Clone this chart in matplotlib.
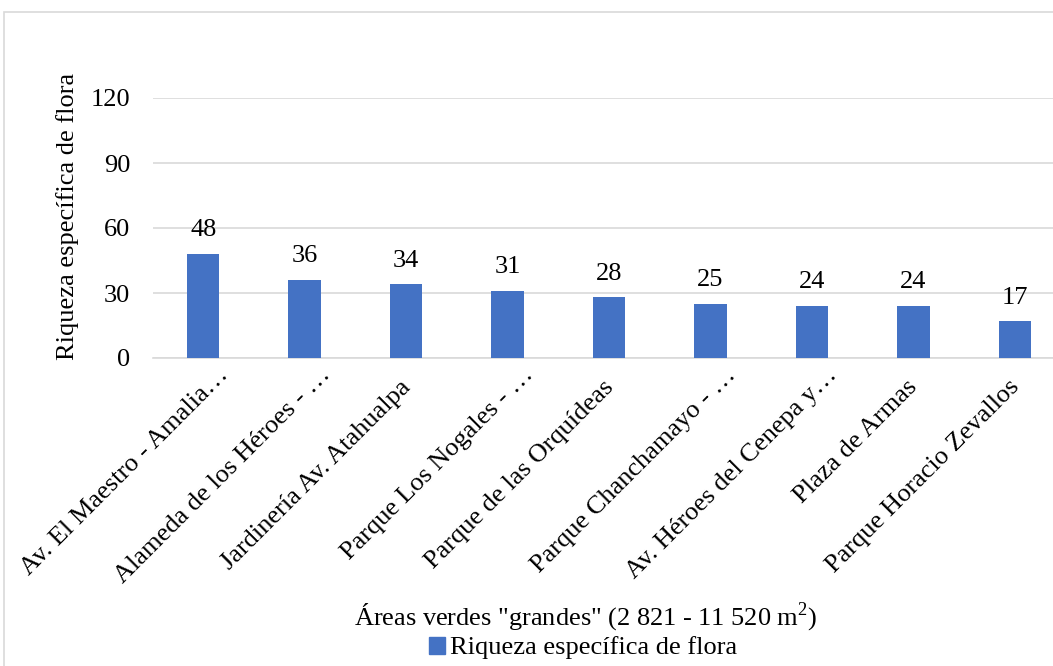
import matplotlib
matplotlib.use("Agg")
import matplotlib.pyplot as plt
import matplotlib.transforms as mtransforms
from matplotlib.patches import Rectangle

plt.rcParams['font.family'] = ['Liberation Serif', 'DejaVu Serif']
plt.rcParams['mathtext.fontset'] = 'custom'
plt.rcParams['mathtext.rm'] = 'Liberation Serif'

areas = [
    "Av. El Maestro - Amalia…",
    "Alameda de los Héroes - …",
    "Jardinería Av. Atahualpa",
    "Parque Los Nogales - …",
    "Parque de las Orquídeas",
    "Parque Chanchamayo - …",
    "Av. Héroes del Cenepa y…",
    "Plaza de Armas",
    "Parque Horacio Zevallos",
]
riqueza = [48, 36, 34, 31, 28, 25, 24, 24, 17]
y_ticks = [0, 30, 60, 90, 120]

FS = 19
W, H = 1053, 666
fig = plt.figure(figsize=(W / 100, H / 100), dpi=100)

# chart frame
fig.patches.append(Rectangle((4 / W, -0.05), 1.1, 1 - 12 / H + 0.05,
                             transform=fig.transFigure, fill=False,
                             edgecolor="#D9D9D9", linewidth=1.2))

ax = fig.add_axes([152.5 / W, 1 - 358 / H, (1065.5 - 152.5) / W, (358 - 98) / H])
x = list(range(len(areas)))
bars = ax.bar(x, riqueza, width=0.32, color="#4472C4", zorder=3)

ax.set_xlim(-0.5, len(areas) - 0.5)
ax.set_ylim(0, 120)
ax.set_yticks(y_ticks)
ax.set_yticklabels([str(v) for v in y_ticks], fontsize=FS)
ax.yaxis.grid(True, color="#D9D9D9", linewidth=1.2, zorder=0)
ax.tick_params(axis="y", length=0, pad=16)
ax.tick_params(axis="x", length=0)
for s in ["top", "right", "left"]:
    ax.spines[s].set_visible(False)
ax.spines["bottom"].set_color("#D9D9D9")
ax.spines["bottom"].set_linewidth(1.2)

for xi, v in zip(x, riqueza):
    ax.annotate(str(v), (xi, v), xytext=(0, 9), textcoords="offset points",
                ha="center", va="bottom", fontsize=FS, annotation_clip=False)

ax.set_xticks(x)
ax.set_xticklabels(areas, rotation=45, ha="right", va="center",
                   rotation_mode="anchor", fontsize=FS)
for lab in ax.get_xticklabels():
    if lab.get_text().endswith("…"):
        dx, dy = 22, -9
    else:
        dx, dy = 1, -21
    offset = mtransforms.ScaledTranslation(dx / 100, dy / 100, fig.dpi_scale_trans)
    lab.set_transform(lab.get_transform() + offset)

fig.text(68 / W, 1 - 216 / H, "Riqueza específica de flora", rotation=90,
         ha="center", va="center", fontsize=FS)
fig.text(586 / W, 1 - 617 / H, "Áreas verdes \"grandes\" (2 821 - 11 520 m$^{2}$)",
         ha="center", va="center", fontsize=FS)

handle = Rectangle((0, 0), 1, 1, color="#4472C4")
fig.legend([handle], ["Riqueza específica de flora"], loc="center",
           bbox_to_anchor=(583 / W, 1 - 648 / H), frameon=False, fontsize=FS,
           handlelength=0.6, handleheight=0.6, handletextpad=0.2,
           borderpad=0, borderaxespad=0)

fig.savefig("out.png", dpi=100)
